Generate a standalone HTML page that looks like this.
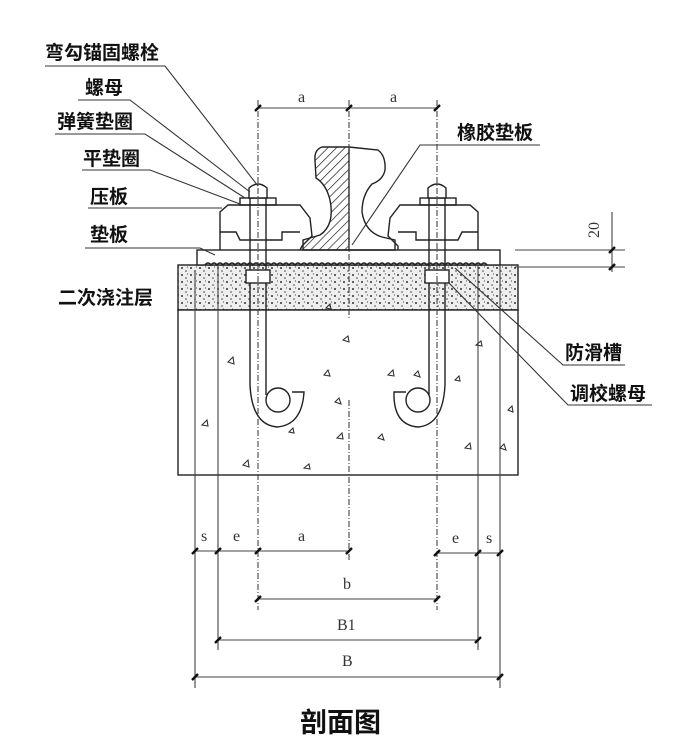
<!DOCTYPE html>
<html><head><meta charset="utf-8"><style>
html,body{margin:0;padding:0;background:#fff}
svg{display:block}
.t{font-family:"Liberation Sans","Noto Sans CJK SC",sans-serif;font-size:19px;font-weight:bold;fill:#111}
.s{font-family:"Liberation Serif",serif;font-size:16px;fill:#333}
</style></head><body>
<svg width="684" height="750" viewBox="0 0 684 750" xmlns="http://www.w3.org/2000/svg">
<defs>
<pattern id="dots" width="9" height="7" patternUnits="userSpaceOnUse">
<rect width="9" height="7" fill="#eee"/>
<circle cx="2" cy="2" r="1" fill="#333"/><circle cx="6" cy="5" r="0.8" fill="#444"/><circle cx="7.5" cy="1" r="0.6" fill="#555"/>
</pattern>
<pattern id="hatch" width="6" height="6" patternUnits="userSpaceOnUse" patternTransform="rotate(45)">
<line x1="0" y1="0" x2="0" y2="6" stroke="#222" stroke-width="1.4"/>
</pattern>
</defs>
<g stroke="#222" fill="none" stroke-width="1.4">
<rect x="178" y="265" width="340" height="45" fill="url(#dots)"/>
<rect x="178" y="310" width="340" height="165" fill="#fff"/>
<rect x="197" y="250" width="303" height="15" fill="#fff"/>
<path d="M205 265 q3-4 6 0 q3-4 6 0 q3-4 6 0 q3-4 6 0 q3-4 6 0 q3-4 6 0 q3-4 6 0 q3-4 6 0 q3-4 6 0 q3-4 6 0 q3-4 6 0 q3-4 6 0 q3-4 6 0 q3-4 6 0 q3-4 6 0 q3-4 6 0 q3-4 6 0 q3-4 6 0 q3-4 6 0 q3-4 6 0 q3-4 6 0 q3-4 6 0 q3-4 6 0 q3-4 6 0 q3-4 6 0 q3-4 6 0 q3-4 6 0 q3-4 6 0 q3-4 6 0 q3-4 6 0 q3-4 6 0 q3-4 6 0 q3-4 6 0 q3-4 6 0 q3-4 6 0 q3-4 6 0 q3-4 6 0 q3-4 6 0 q3-4 6 0 q3-4 6 0 q3-4 6 0 q3-4 6 0 q3-4 6 0 q3-4 6 0 q3-4 6 0 q3-4 6 0 q3-4 6 0" stroke-width="1.6"/>
<path d="M349 147 L322 147 Q314 150 315 160 L316 178 Q326 184 330 200 Q335 225 320 235 L303 240 L303 250 L349 250 Z" fill="url(#hatch)"/>
<path d="M349 147 L378 150 Q386 156 385 170 Q383 180 372 184 Q362 195 362 212 Q365 232 382 237 L395 240 L395 250 L349 250"/>
<path d="M220 250 L220 212 L228 205 L300 205 L310 218 L312 236 L302 246 L300 250"/>
<path d="M220 232 L236 232 L240 240 L282 240 L282 232 L300 232"/>
<rect x="240" y="198" width="36" height="7"/>
<path d="M478 250 L478 212 L470 205 L400 205 L390 218 L388 236 L398 246 L398 250"/>
<path d="M478 232 L462 232 L458 240 L416 240 L416 232 L398 232"/>
<rect x="420" y="198" width="36" height="7"/>
<path d="M249 198 L249 188 Q258 180 267 188 L267 198 Z" fill="#fff"/>
<path d="M428 198 L428 188 Q437 180 446 188 L446 198 Z" fill="#fff"/>
<line x1="250" y1="198" x2="250" y2="385"/><line x1="266" y1="198" x2="266" y2="395"/>
<line x1="429" y1="198" x2="429" y2="395"/><line x1="445" y1="198" x2="445" y2="385"/>
<path d="M250 385 Q252 425 277 427 Q302 425 304 392 L292 392"/>
<circle cx="278" cy="400" r="12"/>
<path d="M445 385 Q443 425 418 427 Q393 425 394 392 L406 392"/>
<circle cx="418" cy="400" r="12"/>
<rect x="246" y="270" width="24" height="13" fill="#fff"/>
<rect x="425" y="270" width="24" height="13" fill="#fff"/>
<g stroke="#444" stroke-width="1.1" stroke-dasharray="6 2 1 2">
<line x1="258" y1="100" x2="258" y2="610"/>
<line x1="437" y1="100" x2="437" y2="610"/>
<line x1="349" y1="100" x2="349" y2="320"/>
<line x1="349" y1="400" x2="349" y2="560"/>
</g>
<g stroke="#444" stroke-width="1.1">
<line x1="195" y1="270" x2="195" y2="688"/>
<line x1="218" y1="265" x2="218" y2="650"/>
<line x1="478" y1="265" x2="478" y2="650"/>
<line x1="500" y1="265" x2="500" y2="688"/>
<line x1="258" y1="108" x2="437" y2="108"/>
<line x1="195" y1="551" x2="349" y2="551"/>
<line x1="437" y1="553" x2="500" y2="553"/>
<line x1="258" y1="599" x2="437" y2="599"/>
<line x1="218" y1="640" x2="478" y2="640"/>
<line x1="195" y1="677" x2="500" y2="677"/>
<line x1="515" y1="250" x2="625" y2="250"/>
<line x1="515" y1="267" x2="625" y2="267"/>
<line x1="612" y1="212" x2="612" y2="272"/>
</g>
<g stroke="#111" stroke-width="2.4">
<path d="M255 111 l6 -6 M346 111 l6 -6 M434 111 l6 -6 M192 554 l6 -6 M215 554 l6 -6 M255 554 l6 -6 M346 554 l6 -6 M434 556 l6 -6 M475 556 l6 -6 M497 556 l6 -6 M255 602 l6 -6 M434 602 l6 -6 M215 643 l6 -6 M475 643 l6 -6 M192 680 l6 -6 M497 680 l6 -6 M609 253 l6 -6 M609 270 l6 -6"/>
</g>
<g stroke="#333" stroke-width="1.1">
<path d="M45 66 L165 66 L258 186"/>
<path d="M78 100 L130 100 L250 192"/>
<path d="M55 134 L145 134 L245 198"/>
<path d="M82 170 L150 170 L240 204"/>
<path d="M88 208 L222 208"/>
<path d="M85 248 L200 248 L215 255"/>
<path d="M540 145 L420 145 L352 245"/>
<path d="M625 365 L563 365 L455 268"/>
<path d="M652 405 L568 405 L448 282"/>
</g>
<g stroke="#333" stroke-width="1.1">
<path d="M228 362 l5 -5 l1 7 z M343 340 l5 -4 l1 6 z M324 375 l4 -5 l2 6 z M326 308 l4 -4 l1 5 z M388 375 l5 -5 l1 6 z M414 375 l4 -4 l2 6 z M476 345 l5 -4 l1 5 z M243 465 l5 -5 l1 7 z M304 468 l5 -4 l1 5 z M337 438 l5 -5 l1 6 z M378 438 l4 -4 l2 6 z M465 448 l5 -5 l1 6 z M500 448 l4 -4 l2 6 z M202 425 l5 -5 l1 6 z M335 402 l4 -4 l2 6 z M455 380 l4 -4 l1 5 z M508 410 l4 -4 l1 6 z M289 432 l4 -4 l1 5 z"/>
</g>
</g>
<text class="t" x="45" y="59">弯勾锚固螺栓</text>
<text class="t" x="85" y="94">螺母</text>
<text class="t" x="57" y="128">弹簧垫圈</text>
<text class="t" x="83" y="165">平垫圈</text>
<text class="t" x="90" y="203">压板</text>
<text class="t" x="90" y="241">垫板</text>
<text class="t" x="58" y="304">二次浇注层</text>
<text class="t" x="457" y="139">橡胶垫板</text>
<text class="t" x="565" y="359">防滑槽</text>
<text class="t" x="570" y="400">调校螺母</text>
<text class="s" x="298" y="102">a</text>
<text class="s" x="390" y="102">a</text>
<text class="s" x="201" y="541">s</text>
<text class="s" x="233" y="541">e</text>
<text class="s" x="298" y="541">a</text>
<text class="s" x="452" y="543">e</text>
<text class="s" x="486" y="543">s</text>
<text class="s" x="343" y="589">b</text>
<text class="s" x="337" y="630">B1</text>
<text class="s" x="342" y="666">B</text>
<text class="s" x="0" y="0" transform="translate(599,238) rotate(-90)">20</text>
<text x="300" y="732" style="font-family:'Liberation Sans','Noto Sans CJK SC',sans-serif;font-size:27px;font-weight:bold;fill:#111">剖面图</text>
</svg>
</body></html>
